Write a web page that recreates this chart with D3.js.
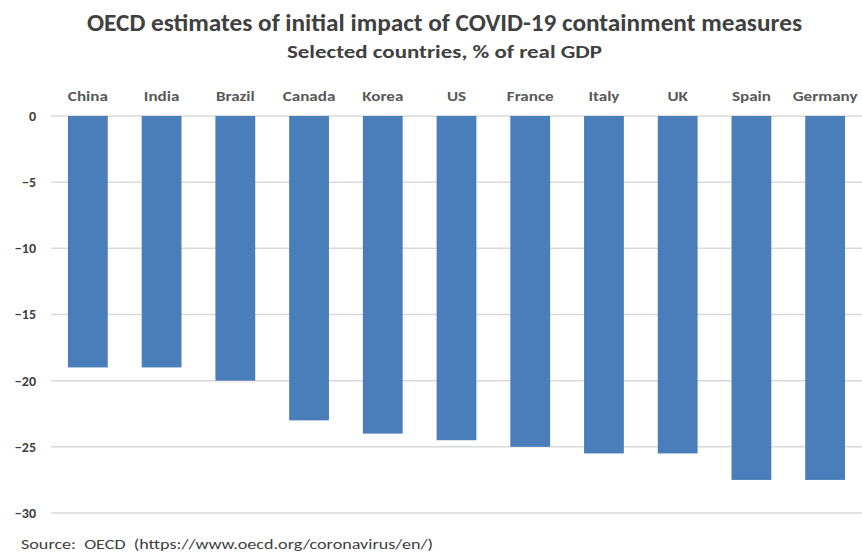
<!DOCTYPE html>
<html>
<head>
<meta charset="utf-8">
<script src="https://cdn.jsdelivr.net/npm/d3@7"></script>
<style>
  body { margin: 0; background: #fff; }
  text { font-family: Carlito, "Liberation Sans Narrow", "Open Sans", sans-serif; }
</style>
</head>
<body>
<svg id="chart" width="862" height="552"></svg>
<script>
const countries = ["China", "India", "Brazil", "Canada", "Korea", "US", "France", "Italy", "UK", "Spain", "Germany"]
const impact = [-19, -19, -20, -23, -24, -24.5, -25, -25.5, -25.5, -27.5, -27.5]
const yTicks = [0, -5, -10, -15, -20, -25, -30]

const width = 862, height = 552
const fontFamily = "Carlito, 'Liberation Sans Narrow', 'Open Sans', sans-serif"
const svg = d3.select("#chart")

// the reference text looks stretched sideways, widen glyphs a bit
function stretch(sel, factor) {
    sel.each(function() {
        const len = this.getComputedTextLength()
        d3.select(this)
            .attr("textLength", len * factor)
            .attr("lengthAdjust", "spacingAndGlyphs")
    })
}

const x = d3.scaleBand()
    .domain(countries)
    .range([51, 862])
    .paddingInner(0.46)
    .paddingOuter(0.23)

const y = d3.scaleLinear()
    .domain([0, -30])
    .range([116, 513])

// gridlines
svg.append("g")
    .selectAll("line")
    .data(yTicks)
    .join("line")
    .attr("x1", 51)
    .attr("x2", width)
    .attr("y1", d => y(d))
    .attr("y2", d => y(d))
    .attr("stroke", "#d9d9d9")
    .attr("stroke-width", 1.5)

// y labels
const yAxis = svg.append("g")
    .attr("transform", "translate(36,0)")
    .call(d3.axisLeft(y).tickValues(yTicks).tickSize(0).tickPadding(0))
yAxis.select(".domain").remove()
yAxis.selectAll("text")
    .attr("font-family", fontFamily)
    .attr("font-size", 14)
    .attr("font-weight", "bold")
    .attr("fill", "#404040")

// bars
svg.append("g")
    .selectAll("rect")
    .data(countries)
    .join("rect")
    .attr("x", d => x(d))
    .attr("width", x.bandwidth())
    .attr("y", y(0))
    .attr("height", (d, i) => y(impact[i]) - y(0))
    .attr("fill", "#4a7ebb")

// country labels on top
const xAxis = svg.append("g")
    .attr("transform", "translate(0,101)")
    .call(d3.axisTop(x).tickSize(0).tickPadding(0))
xAxis.select(".domain").remove()
xAxis.selectAll("text")
    .attr("dy", 0)
    .attr("font-family", fontFamily)
    .attr("font-size", 14)
    .attr("font-weight", "bold")
    .attr("fill", "#595959")
    .call(stretch, 1.22)

svg.append("text")
    .attr("x", 444.5)
    .attr("y", 31)
    .attr("text-anchor", "middle")
    .attr("font-size", 24)
    .attr("font-weight", "bold")
    .attr("fill", "#404040")
    .attr("textLength", 715)
    .attr("lengthAdjust", "spacingAndGlyphs")
    .text("OECD estimates of initial impact of COVID-19 containment measures")

svg.append("text")
    .attr("x", 444.5)
    .attr("y", 58)
    .attr("text-anchor", "middle")
    .attr("font-size", 19)
    .attr("font-weight", "bold")
    .attr("fill", "#404040")
    .attr("textLength", 315)
    .attr("lengthAdjust", "spacingAndGlyphs")
    .text("Selected countries, % of real GDP")

svg.append("text")
    .attr("x", 21)
    .attr("y", 549)
    .attr("font-size", 15)
    .attr("fill", "#404040")
    .attr("textLength", 412)
    .attr("lengthAdjust", "spacingAndGlyphs")
    .style("white-space", "pre")
    .text("Source:  OECD  (https://www.oecd.org/coronavirus/en/)")
</script>
</body>
</html>
